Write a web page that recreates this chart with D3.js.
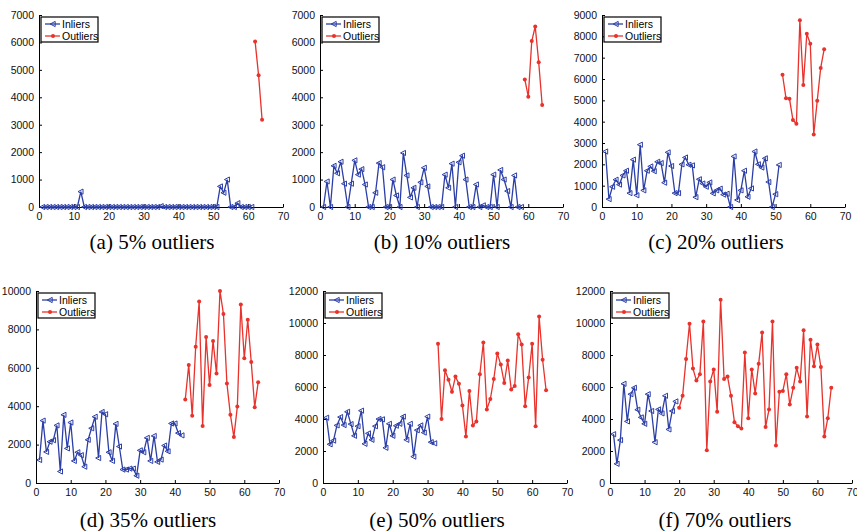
<!DOCTYPE html>
<html><head><meta charset="utf-8">
<script src="https://cdn.jsdelivr.net/npm/d3@7/dist/d3.min.js"></script>
<style>
body{margin:0;background:#fff;}
svg{display:block;}
.tick text{font-family:"Liberation Sans",Arial,sans-serif;}
</style></head>
<body><svg id="chart" width="857" height="531"></svg>
<script>
// ---- data (x = 1..64, inliers first, then outliers) ----
const captions = ["(a) 5% outliers","(b) 10% outliers","(c) 20% outliers","(d) 35% outliers","(e) 50% outliers","(f) 70% outliers"];
const legendLabels = ["Inliers","Outliers"];
const xTicks = [0,10,20,30,40,50,60,70];
const yMaxes = [7000,7000,9000,10000,12000,12000];
const yTickSteps = [1000,1000,1000,2000,2000,2000];

const inliersA = [0,0,0,0,0,0,0,0,0,0,0,560,0,0,0,0,0,0,0,0,0,0,0,0,0,0,0,0,0,0,0,0,0,0,30,0,0,0,0,0,0,0,0,0,0,0,0,0,0,0,0,750,520,1000,0,0,140,0,0,0,0];
const outliersA = [6030,4800,3180];

const inliersB = [0,930,0,1500,1230,1650,850,0,850,1700,1180,1380,820,0,0,520,1600,1450,0,0,1000,420,0,1970,1150,350,700,0,900,1430,750,0,0,0,0,1180,700,1580,0,1630,1870,1000,0,0,820,0,60,0,0,1180,0,1350,1000,580,0,1150,0,0];
const outliersB = [4650,4020,6050,6580,5280,3720];

const inliersC = [2600,370,950,1280,1050,1480,1700,650,2220,550,2920,780,1700,1900,1680,2120,2060,1140,2560,1920,650,650,2000,2320,1980,1950,460,1300,1100,950,1150,640,780,860,580,620,0,2370,330,780,1700,480,870,2600,2000,1850,2280,1170,0,600,1970];
const outliersC = [6200,5100,5080,4080,3900,8750,5720,8120,7650,3400,4980,6520,7400];

const inliersD = [1200,3250,1620,2150,2230,3000,600,3550,1800,3150,1150,1600,1450,850,2250,2850,3450,1300,3700,3580,1600,1150,3080,1900,700,700,750,750,380,1700,1600,2350,1150,2450,1100,1220,1950,1650,3100,3100,2600,2480];
const outliersD = [4350,6150,3500,7100,9450,2970,7600,5100,7400,5700,10000,8800,5180,3550,2400,3980,9300,6500,8500,6300,3950,5250];

const inliersE = [4080,2420,2650,3600,4120,3620,4450,3680,2950,3550,4520,2450,3100,2700,3550,4000,3980,2200,3700,2950,3580,3700,4150,2700,3700,1650,3300,3600,3150,4150,2550,2480];
const outliersE = [8700,4000,7050,6450,5700,6650,6200,4850,2900,5750,3600,3850,6800,8780,4600,5250,6500,8100,7400,6250,7650,5850,6070,9300,8650,4800,6600,8700,3550,10400,7700,5800];

const inliersF = [3050,1200,2680,6200,3850,5550,5950,4580,4100,3700,5550,4500,2550,4600,4350,5450,3350,4500,5100];
const outliersF = [4700,5450,7750,9950,7150,6400,6800,10100,2050,6350,7100,4450,11450,6500,6650,5450,3800,3550,3400,8150,4050,7100,5600,7450,9400,3500,4600,10100,2350,5700,5750,6800,4900,5950,7200,6350,9550,4150,8950,7300,8650,7250,2900,4050,5950];

const inlierSets = [inliersA,inliersB,inliersC,inliersD,inliersE,inliersF];
const outlierSets = [outliersA,outliersB,outliersC,outliersD,outliersE,outliersF];

// ---- layout ----
const BLUE = "#2b3ea6", RED = "#e8322b";
const frames = [
  {l:39, r:283, t:15, b:207, cx:152, cy:249},
  {l:320, r:563, t:15, b:207, cx:442, cy:249},
  {l:602, r:845, t:15, b:207, cx:716, cy:249},
  {l:36, r:279, t:291, b:483, cx:148, cy:527},
  {l:323, r:567, t:291, b:483, cx:437, cy:527},
  {l:610, r:852, t:291, b:483, cx:725, cy:527}
];

const svg = d3.select("#chart");
const tri = "M-2.8,0 L2.2,-2.6 L2.2,2.6 Z"; // left-pointing triangle

frames.forEach((f, i) => {
  const x = d3.scaleLinear().domain([0,70]).range([f.l, f.r]);
  const y = d3.scaleLinear().domain([0, yMaxes[i]]).range([f.b, f.t]);
  const g = svg.append("g");

  const yt = d3.range(0, yMaxes[i] + 1, yTickSteps[i]);
  const xAxis = d3.axisBottom(x).tickValues(xTicks).tickSizeInner(-3).tickSizeOuter(0).tickPadding(6).tickFormat(d3.format("d"));
  const yAxis = d3.axisLeft(y).tickValues(yt).tickSizeInner(-3).tickSizeOuter(0).tickPadding(5).tickFormat(d3.format("d"));
  const gx = g.append("g").attr("transform", `translate(0,${f.b})`).call(xAxis);
  const gy = g.append("g").attr("transform", `translate(${f.l},0)`).call(yAxis);
  [gx, gy].forEach(a => {
    a.selectAll("path").attr("stroke", "#000").attr("stroke-width", 1);
    a.selectAll("line").attr("stroke", "#000");
    a.selectAll("text").attr("font-size", 10.5).attr("fill", "#111");
  });
  // keep the last x label inside the page
  if (f.r + 8 > 857) {
    gx.selectAll(".tick text").filter(d => d === 70).attr("text-anchor", "end").attr("dx", 6);
  }

  const inl = inlierSets[i].map((v, k) => ({x: k + 1, v}));
  const n = inl.length;
  const out = outlierSets[i].map((v, k) => ({x: n + k + 1, v}));
  const line = d3.line().x(d => x(d.x)).y(d => y(d.v));

  g.append("path").datum(inl).attr("d", line).attr("fill", "none").attr("stroke", BLUE).attr("stroke-width", 1.3);
  g.selectAll(".mi").data(inl).enter().append("path")
    .attr("d", tri).attr("transform", d => `translate(${x(d.x)},${y(d.v)})`)
    .attr("fill", "none").attr("stroke", BLUE).attr("stroke-width", 1);

  g.append("path").datum(out).attr("d", line).attr("fill", "none").attr("stroke", RED).attr("stroke-width", 1.3);
  g.selectAll(".mo").data(out).enter().append("circle")
    .attr("cx", d => x(d.x)).attr("cy", d => y(d.v)).attr("r", 2).attr("fill", RED);

  // legend
  const lx = f.l + 2, ly = f.t + 2;
  const lg = g.append("g");
  lg.append("rect").attr("x", lx).attr("y", ly).attr("width", 57).attr("height", 25)
    .attr("fill", "#fff").attr("stroke", "#000").attr("stroke-width", 1.2);
  legendLabels.forEach((lab, k) => {
    const yy = ly + 7 + k * 12;
    const c = k === 0 ? BLUE : RED;
    lg.append("line").attr("x1", lx + 4).attr("x2", lx + 19).attr("y1", yy).attr("y2", yy).attr("stroke", c).attr("stroke-width", 1.3);
    if (k === 0) {
      lg.append("path").attr("d", tri).attr("transform", `translate(${lx + 12},${yy})`).attr("fill", "none").attr("stroke", c);
    } else {
      lg.append("circle").attr("cx", lx + 12).attr("cy", yy).attr("r", 2).attr("fill", c);
    }
    lg.append("text").attr("x", lx + 21).attr("y", yy + 3.6).text(lab)
      .attr("font-family", "Liberation Sans, Arial, sans-serif").attr("font-size", 10.5).attr("fill", "#000");
  });

  svg.append("text").attr("x", f.cx).attr("y", f.cy).attr("text-anchor", "middle")
    .attr("font-family", "Liberation Serif, Times New Roman, serif").attr("font-size", 21).attr("fill", "#000")
    .text(captions[i]);
});
</script></body></html>
